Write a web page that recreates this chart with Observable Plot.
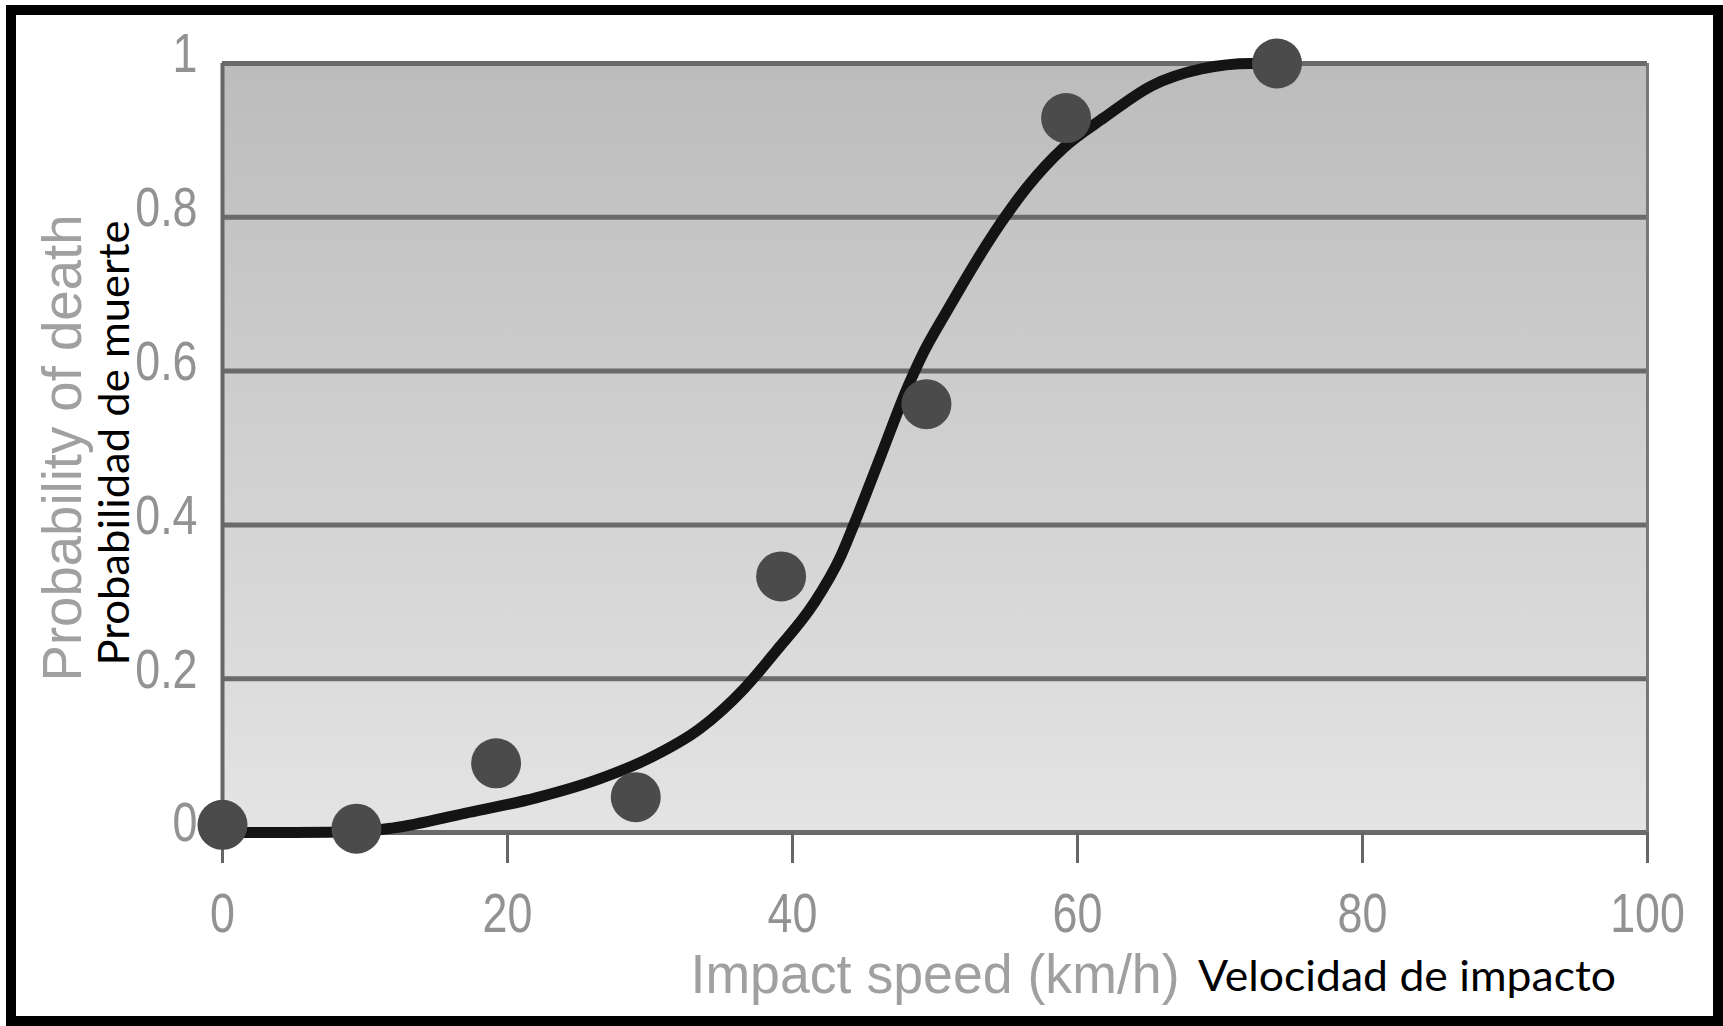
<!DOCTYPE html>
<html><head><meta charset="utf-8">
<script src="https://cdn.jsdelivr.net/npm/d3@7"></script>
<script src="https://cdn.jsdelivr.net/npm/@observablehq/plot@0.6"></script>
<style>
html,body{margin:0;padding:0;background:#fff;width:1723px;height:1026px;overflow:hidden}
#frame{position:absolute;left:6px;top:5px;width:1717px;height:1021px;box-sizing:border-box;border:10px solid #000;pointer-events:none}
#chart{position:absolute;left:0;top:0}
</style></head><body>
<div id="chart"></div><div id="frame"></div>
<script>
// Observed data points (impact speed km/h, probability of death)
const speeds = [0, 9.4, 19.2, 29, 39.2, 49.4, 59.2, 74];
const probs  = [0.01, 0.005, 0.09, 0.046, 0.333, 0.557, 0.929, 1.0];
// Fitted curve
const curveSpeed = [0, 5, 10, 12, 17, 22, 26.5, 30, 33.5, 36.6, 38.9, 41.5, 43.4, 44.3, 46.2, 48.1, 49.0, 50.9, 53.2, 54.6, 56.5, 59, 61.9, 65.2, 68.7, 72.2, 74];
const curveProb  = [0, 0, 0.002, 0.006, 0.025, 0.045, 0.07, 0.097, 0.135, 0.187, 0.237, 0.298, 0.36, 0.4, 0.49, 0.58, 0.617, 0.68, 0.752, 0.792, 0.84, 0.89, 0.93, 0.971, 0.993, 1.0, 1.0];
const xTicks = [0, 20, 40, 60, 80, 100];
const yTicks = [0, 0.2, 0.4, 0.6, 0.8, 1];
const xTitle = "Impact speed (km/h)";
const yTitle = "Probability of death";
const xTitleEs = "Velocidad de impacto";
const yTitleEs = "Probabilidad de muerte";

const points = speeds.map((s, i) => ({speed: s, prob: probs[i]}));
const curve = curveSpeed.map((s, i) => ({speed: s, prob: curveProb[i]}));

const grayFont = "'Liberation Sans', Arial, sans-serif";
const esFont = "Lato, 'Open Sans', sans-serif";
const plot = Plot.plot({
  width: 1723, height: 1026,
  marginLeft: 222, marginRight: 76, marginTop: 63, marginBottom: 194,
  style: {background: "transparent", fontFamily: grayFont, overflow: "visible"},
  x: {domain: [0, 100]},
  y: {domain: [0, 1]},
  marks: [
    Plot.frame({fill: "url(#bgGrad)", stroke: null}),
    Plot.ruleY(yTicks, {stroke: "#6a6a6a", strokeWidth: 5}),
    Plot.ruleX([100], {y1: 0, y2: 1, stroke: "#777", strokeWidth: 3}),
    Plot.ruleX([0], {y1: 0, y2: 1, stroke: "#666", strokeWidth: 4}),
    Plot.axisX({ticks: xTicks, tickSize: 31, tickPadding: 29, fontSize: 56, fill: "#929292", stroke: "#666", strokeWidth: 3, label: null, tickFormat: d => String(d)}),
    Plot.axisY({ticks: yTicks, tickSize: 0, tickPadding: 25, fontSize: 56, fill: "#929292", dy: -9, label: null, tickFormat: d => String(d)}),
    Plot.line(curve, {x: "speed", y: "prob", stroke: "#141414", strokeWidth: 11, curve: "monotone-x"}),
    Plot.dot(points, {x: "speed", y: "prob", r: 25, fill: "#4b4b4b", stroke: null}),
    Plot.text([yTitle], {text: d => d, frameAnchor: "left", textAnchor: "middle", rotate: -90, dx: -159, lineAnchor: "middle", fontSize: 56, fill: "#a0a0a0"}),
    Plot.text([xTitle], {text: d => d, frameAnchor: "bottom", textAnchor: "middle", dy: 143, lineAnchor: "middle", fontSize: 56, fill: "#a0a0a0"}),
    Plot.text([yTitleEs], {text: d => d, frameAnchor: "left", textAnchor: "middle", rotate: -90, dx: -107, dy: -5, lineAnchor: "middle", fontSize: 42, fill: "#000", fontFamily: esFont}),
    Plot.text([xTitleEs], {text: d => d, frameAnchor: "bottom", textAnchor: "middle", dx: 472, dy: 145, lineAnchor: "middle", fontSize: 42, fill: "#000", fontFamily: esFont})
  ]
});
const svg = d3.select(plot);
const defs = svg.insert("defs", ":first-child");
const g = defs.append("linearGradient").attr("id", "bgGrad").attr("x1", 0).attr("y1", 0).attr("x2", 0).attr("y2", 1);
g.append("stop").attr("offset", "0%").attr("stop-color", "#bcbcbc");
g.append("stop").attr("offset", "100%").attr("stop-color", "#e4e4e4");
// condensed look for tick labels
svg.selectAll("g[aria-label='x-axis tick label'] text, g[aria-label='y-axis tick label'] text").each(function() {
  const t = this.getAttribute("transform") || "";
  this.setAttribute("transform", t + " scale(0.8,1)");
});
// fit title lengths to the reference
const lengths = {[xTitle]: 489, [yTitle]: 467, [xTitleEs]: 418, [yTitleEs]: 445};
svg.selectAll("text").each(function() {
  const L = lengths[this.textContent];
  if (L) { this.setAttribute("textLength", L); this.setAttribute("lengthAdjust", "spacingAndGlyphs"); }
});
document.getElementById("chart").appendChild(plot);
</script>
</body></html>
